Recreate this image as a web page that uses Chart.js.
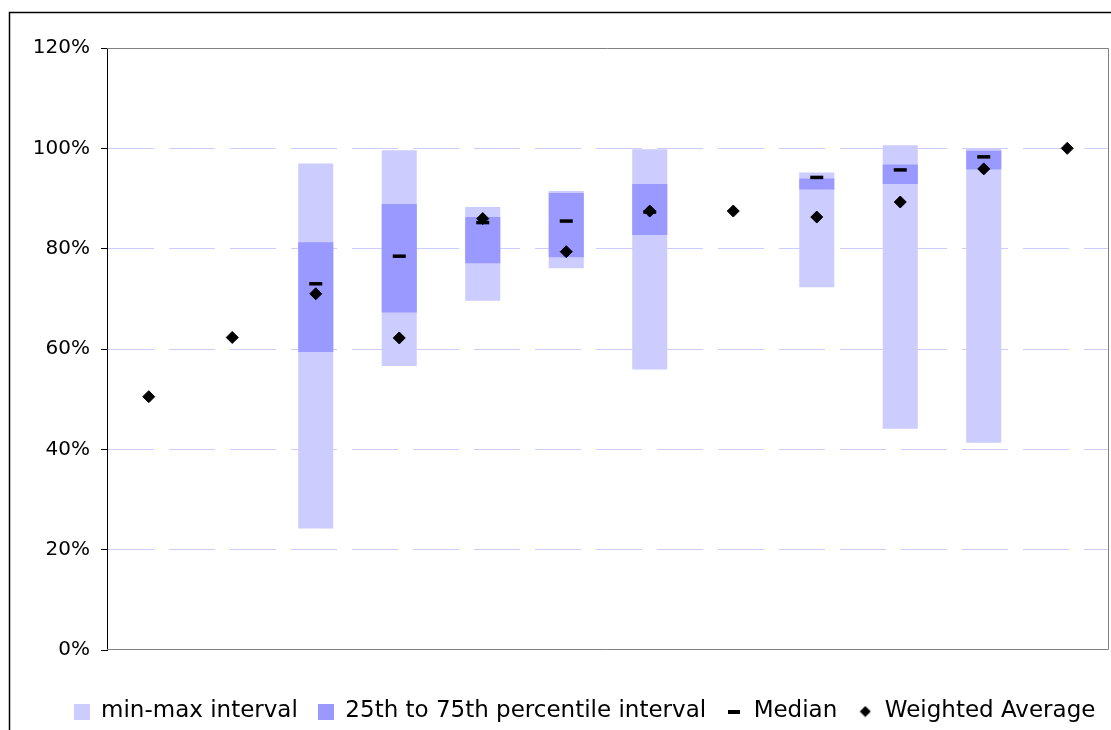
<!DOCTYPE html>
<html>
<head>
<meta charset="utf-8">
<script src="https://cdn.jsdelivr.net/npm/chart.js@4"></script>
<style>
  body { margin: 0; background: #fff; }
</style>
</head>
<body>
<canvas id="myChart" width="1111" height="730"></canvas>
<script>
// categories are not labelled in the original chart
var categories = ['1', '2', '3', '4', '5', '6', '7', '8', '9', '10', '11', '12'];
var minValues = [null, null, 24.2, 56.6, 69.6, 76.1, 55.9, null, 72.3, 44.1, 41.3, null];
var maxValues = [null, null, 97.0, 99.6, 88.3, 91.5, 99.8, null, 95.2, 100.6, 99.9, null];
var q1Values = [null, null, 59.4, 67.3, 77.1, 78.3, 82.7, null, 91.8, 92.9, 95.8, null];
var q3Values = [null, null, 81.3, 88.9, 86.3, 91.1, 92.9, null, 94.0, 96.8, 99.5, null];
var medianValues = [null, null, 73.0, 78.5, 85.2, 85.5, 87.3, null, 94.2, 95.7, 98.3, null];
var weightedAvg = [50.5, 62.3, 71.0, 62.2, 86.0, 79.4, 87.5, 87.5, 86.3, 89.3, 95.9, 100.0];
var yTicks = [0, 20, 40, 60, 80, 100, 120];

function pair(lo, hi) {
  return lo.map(function (v, i) { return v == null ? null : [v, hi[i]]; });
}

function makeIcon(w, h, draw) {
  var c = document.createElement('canvas');
  c.width = w; c.height = h;
  draw(c.getContext('2d'), w, h);
  return c;
}
var icons = [
  makeIcon(16, 16, function (g, w, h) { g.fillStyle = '#ccccff'; g.fillRect(0, 0, w, h); }),
  makeIcon(16, 16, function (g, w, h) { g.fillStyle = '#9999ff'; g.fillRect(0, 0, w, h); }),
  makeIcon(12, 4, function (g, w, h) { g.fillStyle = '#000'; g.fillRect(0, 0, w, h); }),
  makeIcon(12, 12, function (g, w, h) {
    g.fillStyle = '#000'; g.beginPath();
    g.moveTo(6, 0.5); g.lineTo(11.5, 6); g.lineTo(6, 11.5); g.lineTo(0.5, 6); g.closePath(); g.fill();
  })
];

var frame = {
  id: 'frame',
  afterLayout: function (chart) {
    // legend sits a bit right of the canvas centre in the original
    chart.legend.left += 30;
    chart.legend.right += 30;
  },
  beforeDatasetsDraw: function (chart) {
    var a = chart.chartArea, g = chart.ctx;
    g.save();
    g.strokeStyle = '#808080';
    g.lineWidth = 1;
    g.beginPath();
    g.moveTo(a.left, a.top + 0.5); g.lineTo(a.right - 0.5, a.top + 0.5);
    g.lineTo(a.right - 0.5, a.bottom - 0.5); g.lineTo(a.left, a.bottom - 0.5);
    g.stroke();
    g.restore();
  },
  afterDraw: function (chart) {
    var g = chart.ctx;
    g.save();
    g.strokeStyle = '#000';
    g.lineWidth = 1.5;
    g.strokeRect(9.5, 12.5, 1200, 800);
    g.restore();
  }
};

var ctx = document.getElementById('myChart').getContext('2d');
var myChart = new Chart(ctx, {
  type: 'bar',
  data: {
    labels: categories,
    datasets: [{
      label: 'min-max interval',
      data: pair(minValues, maxValues),
      backgroundColor: '#ccccff',
      borderWidth: 0,
      grouped: false,
      order: 3
    }, {
      label: '25th to 75th percentile interval',
      data: pair(q1Values, q3Values),
      backgroundColor: '#9999ff',
      borderWidth: 0,
      grouped: false,
      order: 2
    }, {
      type: 'line',
      label: 'Median',
      data: medianValues,
      showLine: false,
      pointStyle: 'line',
      pointRadius: 6.5,
      pointBorderWidth: 3.5,
      borderColor: '#000',
      backgroundColor: '#000',
      order: 1
    }, {
      type: 'line',
      label: 'Weighted Average',
      data: weightedAvg,
      showLine: false,
      pointStyle: 'rectRot',
      pointRadius: 6,
      pointBorderWidth: 1,
      borderColor: '#000',
      backgroundColor: '#000',
      order: 0
    }]
  },
  options: {
    responsive: false,
    animation: false,
    barPercentage: 0.42,
    categoryPercentage: 1,
    layout: { autoPadding: false, padding: { top: 48, right: 2, left: 0, bottom: -3 } },
    plugins: {
      tooltip: { enabled: false },
      legend: {
        position: 'bottom',
        title: { display: true, text: '', font: { size: 10, lineHeight: 1 }, padding: { top: 20, bottom: 0 } },
        labels: {
          usePointStyle: true,
          boxWidth: 16,
          boxHeight: 16,
          padding: 20,
          color: '#000',
          font: { family: 'DejaVu Sans', size: 23 },
          sort: function (a, b) { return a.datasetIndex - b.datasetIndex; },
          generateLabels: function (chart) {
            return chart.data.datasets.map(function (ds, i) {
              return {
                text: ds.label,
                datasetIndex: i,
                pointStyle: icons[i],
                fillStyle: '#000',
                strokeStyle: '#000',
                lineWidth: 0,
                fontColor: '#000',
                hidden: false
              };
            });
          }
        }
      }
    },
    scales: {
      x: {
        display: false
      },
      y: {
        min: 0,
        max: 120,
        afterFit: function (scale) { scale.width = 107; },
        afterBuildTicks: function (scale) {
          scale.ticks = yTicks.map(function (v) { return { value: v }; });
        },
        ticks: {
          padding: 11,
          color: '#000',
          font: { family: 'DejaVu Sans', size: 20 },
          callback: function (v) { return v + '%'; }
        },
        grid: {
          color: function (c) {
            return (c.tick && (c.tick.value === 0 || c.tick.value === 120)) ? 'rgba(0,0,0,0)' : '#ccccff';
          },
          tickColor: '#000',
          tickLength: 6,
          lineWidth: 1
        },
        border: { color: '#000', width: 1, dash: [46, 15] }
      }
    }
  },
  plugins: [frame]
});
</script>
</body>
</html>
